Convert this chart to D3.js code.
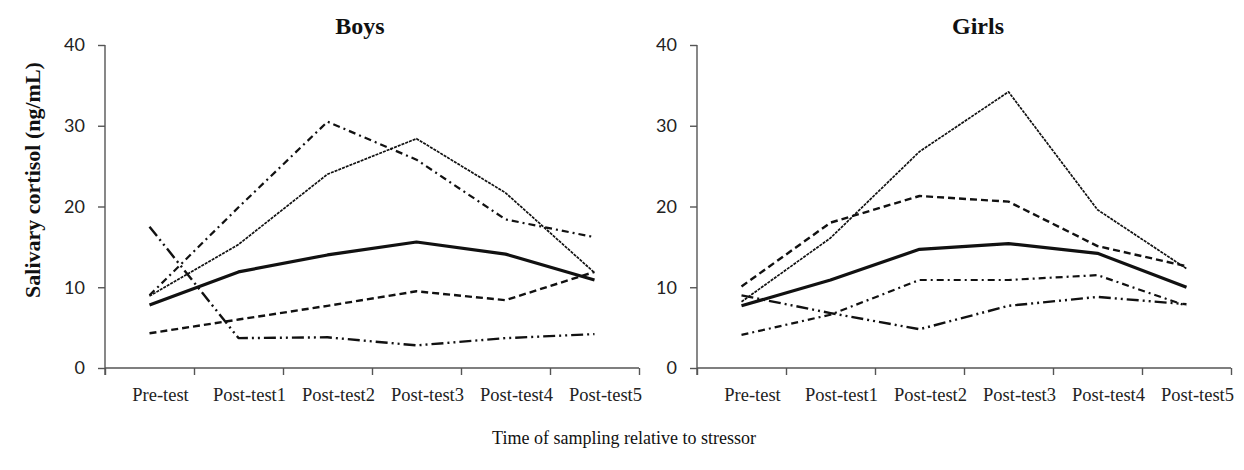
<!DOCTYPE html>
<html>
<head>
<meta charset="utf-8">
<script src="https://cdn.jsdelivr.net/npm/d3@7"></script>
<style>
  body { margin: 0; background: #fff; }
  svg { display: block; }
</style>
</head>
<body>
<svg width="1244" height="470"></svg>
<script>
// Categories on the x axis
var categories = ["Pre-test", "Post-test1", "Post-test2", "Post-test3", "Post-test4", "Post-test5"];
var yTicks = [0, 10, 20, 30, 40];

// Boys series (ng/mL)
var boysThick = [7.8, 11.9, 14.0, 15.6, 14.1, 10.9];
var boysThin = [8.9, 15.3, 24.0, 28.4, 21.7, 11.8];
var boysDashDot = [9.0, 19.9, 30.5, 25.8, 18.4, 16.2];
var boysDash = [4.3, 6.0, 7.7, 9.5, 8.4, 11.9];
var boysDashDotDot = [17.5, 3.7, 3.8, 2.8, 3.7, 4.2];

// Girls series (ng/mL)
var girlsThick = [7.7, 10.9, 14.7, 15.4, 14.2, 10.0];
var girlsThin = [8.2, 16.1, 26.8, 34.2, 19.6, 12.3];
var girlsDash = [10.1, 18.0, 21.3, 20.6, 15.1, 12.6];
var girlsDashDot = [4.1, 6.6, 10.9, 10.9, 11.5, 7.7];
var girlsDashDotDot = [9.0, 6.8, 4.8, 7.7, 8.8, 7.9];

// line styles (stroke width + dash pattern)
var styles = {
    thick: { w: 3.2, dash: null },
    thin: { w: 1.7, dash: "3,1" },
    dash: { w: 2.4, dash: "7,4" },
    dashDot: { w: 2.2, dash: "7,4,2,4" },
    dashDotDot: { w: 2.4, dash: "12,4,2,4,2,4" }
};

var panels = [
    { title: "Boys", x0: 105, x1: 639, titleX: 360,
      series: [["thin", boysThin], ["dashDot", boysDashDot], ["dash", boysDash],
               ["dashDotDot", boysDashDotDot], ["thick", boysThick]] },
    { title: "Girls", x0: 697, x1: 1231, titleX: 978,
      series: [["thin", girlsThin], ["dash", girlsDash], ["dashDot", girlsDashDot],
               ["dashDotDot", girlsDashDotDot], ["thick", girlsThick]] }
];

var svg = d3.select("svg");
var plotTop = 45, plotBottom = 368;

var y = d3.scaleLinear().domain([0, 40]).range([plotBottom, plotTop]);

panels.forEach(function(p) {
    var g = svg.append("g");
    var x = d3.scaleBand().domain(categories).range([p.x0, p.x1]);
    // boundary ticks between categories
    var xb = d3.scaleLinear().domain([0, categories.length]).range([p.x0, p.x1]);

    // y axis
    var yAxis = g.append("g")
        .attr("transform", "translate(" + p.x0 + ",0)")
        .call(d3.axisLeft(y).tickValues(yTicks).tickSize(7).tickPadding(13).tickSizeOuter(0));
    yAxis.select(".domain").attr("d", "M0," + plotTop + "V" + (plotBottom + 7));
    yAxis.selectAll("text")
        .style("font-family", "Lato, 'Open Sans', sans-serif")
        .style("font-size", "18px")
        .attr("fill", "#222");

    // x axis line with ticks at category boundaries
    var xAxis = g.append("g")
        .attr("transform", "translate(0," + plotBottom + ")")
        .call(d3.axisBottom(xb).ticks(categories.length).tickSize(7).tickFormat("").tickSizeOuter(0));
    xAxis.select(".domain").attr("d", "M" + p.x0 + ",0H" + p.x1);

    // category labels
    var xLab = g.append("g")
        .attr("transform", "translate(11," + plotBottom + ")")
        .call(d3.axisBottom(x).tickSize(0).tickPadding(20));
    xLab.select(".domain").remove();
    xLab.selectAll("text")
        .style("font-family", "'Liberation Serif', 'Times New Roman', serif")
        .style("font-size", "18.5px")
        .attr("fill", "#222");

    g.selectAll(".domain, .tick line").attr("stroke", "#555").attr("stroke-width", 1.4);

    // panel title
    g.append("text")
        .attr("x", p.titleX)
        .attr("y", 34)
        .attr("text-anchor", "middle")
        .style("font-family", "'Liberation Serif', 'Times New Roman', serif")
        .style("font-size", "24px")
        .style("font-weight", "bold")
        .attr("fill", "#111")
        .text(p.title);

    var line = d3.line()
        .x(function(d, i) { return x(categories[i]) + x.bandwidth() / 2; })
        .y(function(d) { return y(d); });

    p.series.forEach(function(s) {
        var st = styles[s[0]];
        g.append("path")
            .datum(s[1])
            .attr("fill", "none")
            .attr("stroke", "#111")
            .attr("stroke-width", st.w)
            .attr("stroke-dasharray", st.dash)
            .attr("stroke-linejoin", "round")
            .attr("d", line);
    });
});

// y axis title
svg.append("text")
    .attr("transform", "translate(40,180) rotate(-90)")
    .attr("text-anchor", "middle")
    .style("font-family", "'Liberation Serif', 'Times New Roman', serif")
    .style("font-size", "22px")
    .style("font-weight", "bold")
    .attr("fill", "#111")
    .text("Salivary cortisol (ng/mL)");

// x axis title
svg.append("text")
    .attr("x", 624)
    .attr("y", 444)
    .attr("text-anchor", "middle")
    .style("font-family", "'Liberation Serif', 'Times New Roman', serif")
    .style("font-size", "18px")
    .attr("fill", "#111")
    .text("Time of sampling relative to stressor");
</script>
</body>
</html>
